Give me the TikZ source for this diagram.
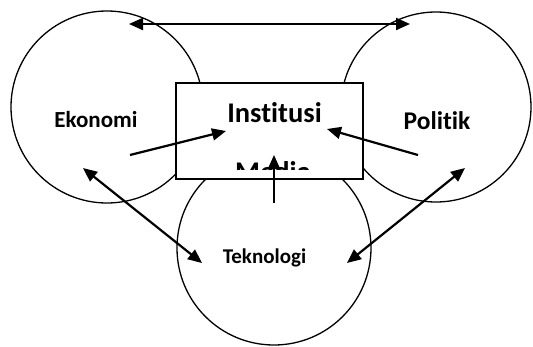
\documentclass[tikz,border=0pt]{standalone}
\usepackage{fontspec}
\setmainfont{Carlito}[Ligatures=NoCommon]
\usetikzlibrary{arrows.meta}
\begin{document}
\begin{tikzpicture}[x=1pt,y=-1pt,
  ring/.style={draw=black,line width=1.3pt},
  panel/.style={draw=black,fill=white,line width=1.5pt},
  link/.style={line width=2.2pt,-{Triangle[length=14pt,width=12pt]}},
  duallink/.style={line width=2.2pt,{Triangle[length=14pt,width=12pt]}-{Triangle[length=14pt,width=12pt]}},
  lbl/.style={font=\bfseries\fontsize{23}{25}\selectfont,anchor=base,inner sep=0pt}]
\useasboundingbox (0,0) rectangle (533,346);
% the three spheres
\draw[ring] (107,107) circle[radius=96];
\draw[ring] (436,107) circle[radius=95];
\draw[ring] (274,248) circle[radius=97];
% central box, covering the spheres
\node[panel,minimum width=187pt,minimum height=96pt,inner sep=0pt] (inst) at (269.5,131) {};
\node[lbl,font=\bfseries\fontsize{28.5}{30}\selectfont] (ti) at (274.5,122) {Institusi};
\begin{scope}
  \clip (176,83) rectangle (363,169);
  \node[lbl,font=\bfseries\fontsize{28.5}{30}\selectfont] (tm) at (273,181) {Media};
\end{scope}
% sphere labels
\node[lbl] (eko) at (96,127) {Ekonomi};
\node[lbl,font=\bfseries\fontsize{25.5}{27}\selectfont] (pol) at (437,129.5) {Politik};
\node[lbl,font=\bfseries\fontsize{21}{23}\selectfont] (tek) at (264.5,263) {Teknologi};
% connector end points
\coordinate (a1) at (129,24);   \coordinate (a2) at (410,24);
\coordinate (b1) at (130,155);  \coordinate (b2) at (226,131);
\coordinate (c1) at (418,155);  \coordinate (c2) at (327,129);
\coordinate (d1) at (274,203);  \coordinate (d2) at (274,155);
\coordinate (e1) at (83,168);   \coordinate (e2) at (202,263);
\coordinate (f1) at (465,168);  \coordinate (f2) at (347,263);
% connectors
\draw[duallink] (a1) -- (a2);
\draw[link] (b1) -- (b2);
\draw[link] (c1) -- (c2);
\draw[link] (d1) -- (d2);
\draw[duallink] (e1) -- (e2);
\draw[duallink] (f1) -- (f2);
\end{tikzpicture}
\end{document}
